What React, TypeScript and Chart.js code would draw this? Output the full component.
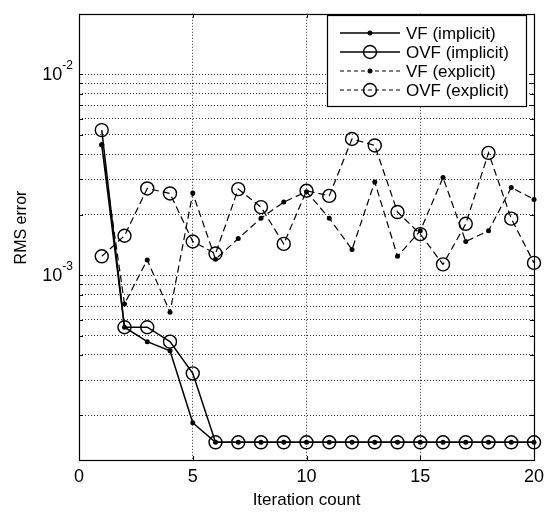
import React, { useEffect, useRef } from "react";
import { Chart, registerables } from "chart.js";

Chart.register(...registerables);

const ITERATIONS = [1, 2, 3, 4, 5, 6, 7, 8, 9, 10, 11, 12, 13, 14, 15, 16, 17, 18, 19, 20];

const VF_IMPLICIT = [4.46e-3, 5.5e-4, 4.66e-4, 4.2e-4, 1.84e-4, 1.47e-4, 1.47e-4, 1.47e-4, 1.47e-4, 1.47e-4, 1.47e-4, 1.47e-4, 1.47e-4, 1.47e-4, 1.47e-4, 1.47e-4, 1.47e-4, 1.47e-4, 1.47e-4, 1.47e-4];
const OVF_IMPLICIT = [5.27e-3, 5.5e-4, 5.5e-4, 4.66e-4, 3.24e-4, 1.47e-4, 1.47e-4, 1.47e-4, 1.47e-4, 1.47e-4, 1.47e-4, 1.47e-4, 1.47e-4, 1.47e-4, 1.47e-4, 1.47e-4, 1.47e-4, 1.47e-4, 1.47e-4, 1.47e-4];
const VF_EXPLICIT = [4.46e-3, 7.18e-4, 1.19e-3, 6.53e-4, 2.56e-3, 1.2e-3, 1.52e-3, 1.92e-3, 2.31e-3, 2.6e-3, 1.92e-3, 1.34e-3, 2.91e-3, 1.24e-3, 1.66e-3, 3.06e-3, 1.47e-3, 1.66e-3, 2.73e-3, 2.38e-3];
const OVF_EXPLICIT = [1.24e-3, 1.57e-3, 2.7e-3, 2.55e-3, 1.47e-3, 1.28e-3, 2.68e-3, 2.18e-3, 1.43e-3, 2.63e-3, 2.48e-3, 4.76e-3, 4.42e-3, 2.06e-3, 1.6e-3, 1.13e-3, 1.8e-3, 4.06e-3, 1.91e-3, 1.15e-3];

const SERIES_LABELS = ["VF (implicit)", "OVF (implicit)", "VF (explicit)", "OVF (explicit)"];

const Y_MIN = 1.2e-4;
const Y_MAX = 2e-2;
const Y_GRID_VALUES = [2e-4, 3e-4, 4e-4, 5e-4, 6e-4, 7e-4, 8e-4, 9e-4, 1e-3, 2e-3, 3e-3, 4e-3, 5e-3, 6e-3, 7e-3, 8e-3, 9e-3, 1e-2];
const X_MIN = 0;
const X_MAX = 20;
const X_STEP = 5;

const X_TITLE = "Iteration count";
const Y_TITLE = "RMS error";

const FONT = "'Liberation Sans', Arial, Helvetica, sans-serif";

const toPoints = (ys: number[]) => ITERATIONS.map((x, i) => ({ x, y: ys[i] }));

const framePlugin = {
  id: "framePlugin",
  afterDraw(chart: any) {
    const { ctx, chartArea: a, scales } = chart;
    const al = (p: number) => Math.round(p) + 0.5;
    ctx.save();
    ctx.strokeStyle = "#000";
    ctx.lineWidth = 1;
    ctx.setLineDash([]);
    const line = (x1: number, y1: number, x2: number, y2: number) => {
      ctx.beginPath();
      ctx.moveTo(x1, y1);
      ctx.lineTo(x2, y2);
      ctx.stroke();
    };
    // inward tick marks
    const ys = scales.y;
    for (const t of ys.ticks) {
      const py = al(ys.getPixelForValue(t.value));
      if (py <= a.top + 1 || py >= a.bottom - 1) continue;
      line(a.left, py, a.left + 4, py);
      line(a.right - 4, py, a.right, py);
    }
    const xs = scales.x;
    for (const t of xs.ticks) {
      if (t.value <= X_MIN || t.value >= X_MAX) continue;
      const px = al(xs.getPixelForValue(t.value));
      line(px, a.bottom, px, a.bottom - 4);
      line(px, a.top, px, a.top + 4);
    }
    // frame
    ctx.lineWidth = 1.2;
    ctx.strokeRect(al(a.left), al(a.top), Math.round(a.right - a.left), Math.round(a.bottom - a.top));
    ctx.lineWidth = 1;

    // y tick labels with superscript exponent
    ctx.fillStyle = "#000";
    for (const t of ys.ticks) {
      const e = Math.log10(t.value);
      if (Math.abs(e - Math.round(e)) > 1e-9) continue;
      const exp = Math.round(e);
      const py = ys.getPixelForValue(t.value);
      const supText = (exp < 0 ? "-" : "") + Math.abs(exp);
      ctx.font = `12px ${FONT}`;
      ctx.textAlign = "left";
      ctx.textBaseline = "alphabetic";
      const supW = ctx.measureText(supText).width;
      const supX = a.left - 6 - supW;
      ctx.fillText(supText, supX, py - 5);
      ctx.font = `18px ${FONT}`;
      ctx.textAlign = "right";
      ctx.fillText("10", supX, py + 6);
    }

    // y axis title
    ctx.save();
    ctx.translate(22, 227.5);
    ctx.rotate(-Math.PI / 2);
    ctx.font = `16px ${FONT}`;
    ctx.textAlign = "center";
    ctx.textBaseline = "middle";
    ctx.fillStyle = "#000";
    ctx.fillText(Y_TITLE, 0, 0);
    ctx.restore();

    // legend
    const bx = 327.5, by = 15.5, bw = 199, bh = 91;
    ctx.fillStyle = "#fff";
    ctx.fillRect(bx, by, bw, bh);
    ctx.strokeStyle = "#000";
    ctx.lineWidth = 1.2;
    ctx.strokeRect(bx, by, bw, bh);
    const rowY = [33, 52, 71, 90];
    chart.data.datasets.forEach((ds: any, i: number) => {
      const y = rowY[i];
      ctx.save();
      ctx.strokeStyle = "#000";
      ctx.lineWidth = ds.borderWidth;
      ctx.setLineDash(ds.borderDash && ds.borderDash.length ? [4, 3] : []);
      line(340, y, 400, y);
      ctx.setLineDash([]);
      ctx.lineWidth = ds.pointBorderWidth || 1;
      ctx.beginPath();
      ctx.arc(370, y, ds.pointRadius, 0, Math.PI * 2);
      if (ds.pointBackgroundColor === "transparent") {
        ctx.stroke();
      } else {
        ctx.fillStyle = "#000";
        ctx.fill();
      }
      ctx.restore();
      ctx.fillStyle = "#000";
      ctx.font = `17px ${FONT}`;
      ctx.textAlign = "left";
      ctx.textBaseline = "middle";
      ctx.fillText(ds.label, 406, y + 1);
    });
    ctx.restore();
  },
};

export default function App() {
  const canvasRef = useRef<HTMLCanvasElement | null>(null);

  useEffect(() => {
    if (!canvasRef.current) return;
    const dotStyle = {
      pointRadius: 2.5,
      pointHoverRadius: 2.5,
      pointBackgroundColor: "#000",
      pointBorderColor: "#000",
      pointBorderWidth: 0,
    };
    const circleStyle = {
      pointRadius: 6.5,
      pointHoverRadius: 6.5,
      pointBackgroundColor: "transparent",
      pointBorderColor: "#000",
      pointBorderWidth: 1.4,
    };
    const chart = new Chart(canvasRef.current, {
      type: "line",
      data: {
        datasets: [
          { label: SERIES_LABELS[0], data: toPoints(VF_IMPLICIT), borderColor: "#000", borderWidth: 1.5, borderDash: [], clip: false, ...dotStyle },
          { label: SERIES_LABELS[1], data: toPoints(OVF_IMPLICIT), borderColor: "#000", borderWidth: 1.5, borderDash: [], clip: false, ...circleStyle },
          { label: SERIES_LABELS[2], data: toPoints(VF_EXPLICIT), borderColor: "#000", borderWidth: 1.2, borderDash: [7, 4], clip: false, ...dotStyle },
          { label: SERIES_LABELS[3], data: toPoints(OVF_EXPLICIT), borderColor: "#000", borderWidth: 1.2, borderDash: [7, 4], clip: false, ...circleStyle },
        ] as any,
      },
      options: {
        responsive: false,
        animation: false,
        events: [],
        layout: { padding: { left: 0, right: 20, top: 7, bottom: 0 } },
        plugins: {
          legend: { display: false },
          tooltip: { enabled: false },
        },
        scales: {
          x: {
            type: "linear",
            min: X_MIN,
            max: X_MAX,
            afterFit: (s: any) => {
              s.height = 52;
            },
            ticks: {
              stepSize: X_STEP,
              color: "#000",
              padding: 6,
              font: { family: FONT, size: 18 },
              maxRotation: 0,
            },
            grid: { color: "#333", lineWidth: 1, drawTicks: false },
            border: { display: false, dash: [1, 2] },
            title: {
              display: true,
              text: X_TITLE,
              color: "#000",
              font: { family: FONT, size: 17 },
              padding: { top: 0, bottom: 1 },
            },
          },
          y: {
            type: "logarithmic",
            min: Y_MIN,
            max: Y_MAX,
            afterFit: (s: any) => {
              s.width = 79;
            },
            afterBuildTicks: (s: any) => {
              s.ticks = Y_GRID_VALUES.map((v) => ({ value: v }));
            },
            ticks: {
              autoSkip: false,
              callback: () => "",
              font: { family: FONT, size: 18 },
            },
            grid: { color: "#333", lineWidth: 1, drawTicks: false },
            border: { display: false, dash: [1, 2] },
            title: { display: false, text: Y_TITLE },
          },
        },
      },
      plugins: [framePlugin],
    });
    return () => chart.destroy();
  }, []);

  return (
    <div style={{ position: "absolute", left: 0, top: 0, width: 554, height: 512, background: "#fff" }}>
      <canvas ref={canvasRef} width={554} height={512} style={{ display: "block" }} />
    </div>
  );
}
